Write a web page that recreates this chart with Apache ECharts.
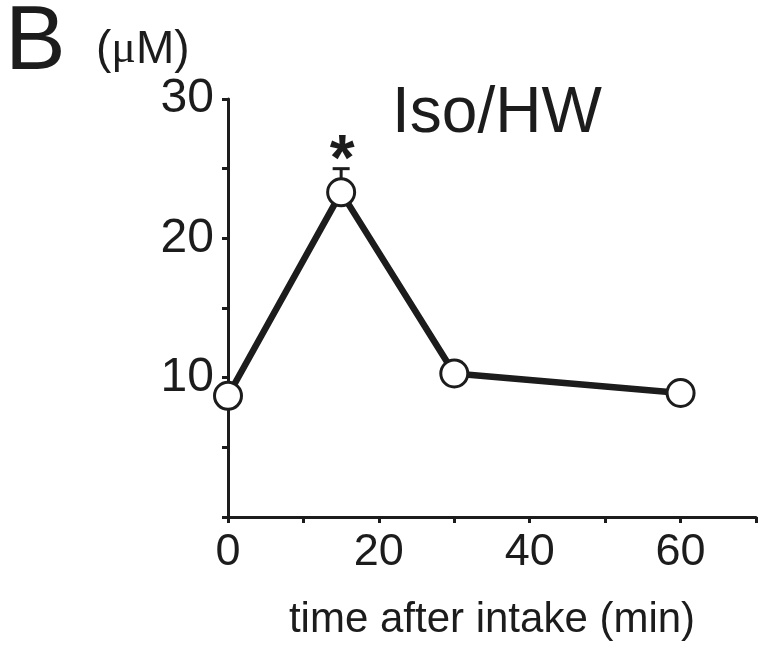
<!DOCTYPE html>
<html>
<head>
<meta charset="utf-8">
<script src="https://cdn.jsdelivr.net/npm/echarts@6/dist/echarts.min.js"></script>
<style>
html,body{margin:0;padding:0;background:#fff;}
#c{width:759px;height:646px;}
</style>
</head>
<body>
<div id="c"></div>
<script>
// ---- data ----
const times = [0, 15, 30, 60];           // min after intake
const means = [8.7, 23.3, 10.3, 8.9];    // µM
const errUp = [0.5, 1.7, 0.8, 0.5];      // upper SEM
const sig = ['', '*', '', ''];
const xTickLabels = ['0', '20', '40', '60'];
const yTickLabels = ['10', '20', '30'];
const panelLetter = 'B';
const unitLabel = ['(', 'μ', 'M)'];
const panelTitle = 'Iso/HW';
const xAxisTitle = 'time after intake (min)';

const FONT = '"Liberation Sans", Arial, Helvetica, sans-serif';
const INK = '#1c1c1c';

const chart = echarts.init(document.getElementById('c'), null, {renderer: 'canvas'});

const lineData = times.map((t, i) => [t, means[i]]);
const errData = times.map((t, i) => [t, means[i], means[i] + errUp[i], sig[i]]);

chart.setOption({
  backgroundColor: '#fff',
  animation: false,
  title: [
    {text: panelLetter, left: 0, top: -7, textStyle: {fontFamily: FONT, fontSize: 91, fontWeight: 'normal', color: INK}},
    {text: '{p|' + unitLabel[0] + '}{m|' + unitLabel[1] + '}{p|' + unitLabel[2] + '}', left: 91, top: 22, textStyle: {rich: {
      p: {fontFamily: FONT, fontSize: 46, fontWeight: 'normal', color: INK},
      m: {fontFamily: '"Liberation Serif", "Times New Roman", serif', fontSize: 46, fontWeight: 'normal', color: INK}
    }}},
    {text: panelTitle, left: 387, top: 77, textStyle: {fontFamily: FONT, fontSize: 64, fontWeight: 'normal', color: INK}}
  ],
  grid: {left: 228, right: 1, top: 99, bottom: 124, containLabel: false},
  xAxis: {
    type: 'value', min: 0, max: 70, interval: 10,
    name: xAxisTitle, nameLocation: 'middle', nameGap: 82,
    nameTextStyle: {fontFamily: FONT, fontSize: 42, color: INK},
    axisLine: {lineStyle: {color: INK, width: 3}},
    axisTick: {show: true, length: 6, lineStyle: {color: INK, width: 3}},
    splitLine: {show: false},
    axisLabel: {
      margin: 13, fontFamily: FONT, fontSize: 45, color: INK,
      formatter: v => xTickLabels.includes(String(v)) ? String(v) : ''
    }
  },
  yAxis: {
    type: 'value', min: 0, max: 30, interval: 5,
    axisLine: {show: true, lineStyle: {color: INK, width: 3}},
    axisTick: {show: true, length: 6, lineStyle: {color: INK, width: 3}},
    splitLine: {show: false},
    axisLabel: {
      margin: 14, fontFamily: FONT, fontSize: 48, color: INK,
      formatter: v => yTickLabels.includes(String(v)) ? String(v) : ''
    }
  },
  series: [
    {
      type: 'custom',
      z: 1,
      data: errData,
      renderItem: function (params, api) {
        const x = api.value(0);
        const c = api.coord([x, api.value(1)]);
        const t = api.coord([x, api.value(2)]);
        const s = errData[params.dataIndex][3];
        const half = 8.5;
        const children = [
          {type: 'line', shape: {x1: c[0], y1: c[1], x2: t[0], y2: t[1]}, style: {stroke: INK, lineWidth: 3}},
          {type: 'line', shape: {x1: t[0] - half, y1: t[1], x2: t[0] + half, y2: t[1]}, style: {stroke: INK, lineWidth: 3}}
        ];
        if (s) {
          children.push({type: 'text', x: t[0] + 1, y: t[1] - 6, style: {
            text: s, fontFamily: FONT, fontSize: 64, fontWeight: 'bold', fill: INK, align: 'center', verticalAlign: 'middle'
          }});
        }
        return {type: 'group', children: children};
      }
    },
    {
      type: 'line',
      z: 2,
      data: lineData,
      lineStyle: {color: INK, width: 6.5},
      symbol: 'circle',
      symbolSize: 27,
      itemStyle: {color: '#fff', borderColor: INK, borderWidth: 3},
      emphasis: {disabled: true}
    }
  ]
});
</script>
</body>
</html>
